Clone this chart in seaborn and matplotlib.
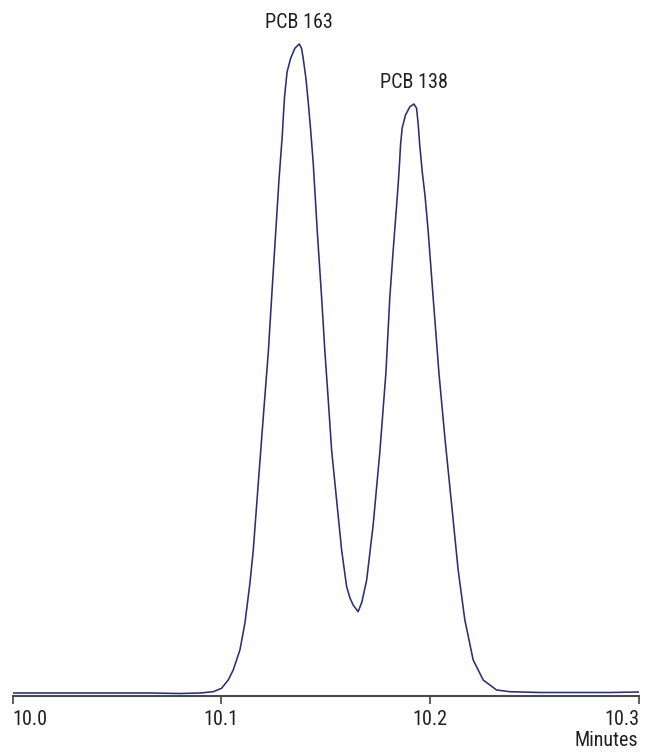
import numpy as np
import pandas as pd
import matplotlib
matplotlib.use("Agg")
import matplotlib.pyplot as plt
import seaborn as sns

# retention time (minutes) and detector signal (arbitrary units)
tempo = [10.0000, 10.0419, 10.0658, 10.0802, 10.0898, 10.0961, 10.1001, 10.1033,
         10.1057, 10.1089, 10.1113, 10.1137, 10.1153, 10.1177, 10.1201, 10.1225,
         10.1246, 10.1261, 10.1276,
         10.1292, 10.1297, 10.1303, 10.1315, 10.1332, 10.1352,
         10.1373,
         10.1384, 10.1392, 10.1405, 10.1416, 10.1427, 10.1440,
         10.1459, 10.1480, 10.1496, 10.1512, 10.1528, 10.1552, 10.1576, 10.1600,
         10.1616, 10.1631, 10.1655,
         10.1673, 10.1696, 10.1727, 10.1759, 10.1788, 10.1807, 10.1823,
         10.1842, 10.1847, 10.1854, 10.1858, 10.1866, 10.1882, 10.1903,
         10.1922,
         10.1935, 10.1943, 10.1950, 10.1962, 10.1975, 10.1990,
         10.2014, 10.2042, 10.2070, 10.2102, 10.2134, 10.2166, 10.2206, 10.2254,
         10.2318, 10.2382, 10.2525, 10.2717, 10.2860, 10.3000]
sinal = [3.0, 3.0, 3.0, 2.5, 3.0, 4.3, 7.7, 16.0,
         26.0, 46.0, 73.0, 113.0, 146.0, 213.0, 279.3, 344.0,
         416.0, 466.0, 516.0,
         561.0, 580.0, 600.0, 624.3, 637.7, 647.7,
         652.0,
         647.7, 637.7, 617.7, 594.3, 567.7, 533.0,
         466.0, 399.3, 344.0, 296.0, 246.0, 196.0, 146.0, 109.3,
         98.0, 91.0, 84.3,
         94.0, 116.0, 171.0, 244.0, 323.0, 399.3, 446.0,
         498.0, 512.0, 535.0, 551.0, 568.0, 581.0, 589.3,
         592.0,
         587.7, 571.0, 551.0, 524.3, 501.0, 466.0,
         399.3, 323.0, 259.3, 193.0, 126.0, 76.0, 36.0, 16.0,
         6.0, 4.3, 3.5, 3.5, 3.5, 4.0]

picos = ["PCB 163", "PCB 138"]
ticks_x = [10.0, 10.1, 10.2, 10.3]
rotulos_x = ["10.0", "10.1", "10.2", "10.3"]

df = pd.DataFrame({"tempo": tempo, "sinal": sinal})

sns.set_style("white")
plt.rcParams["font.family"] = ["Roboto Condensed", "Liberation Sans", "DejaVu Sans"]
cor_texto = "#231f20"

fig = plt.figure(figsize=(6.45, 7.52), dpi=100)
ax = fig.add_axes([12.5 / 645, 56 / 752, 626.5 / 645, 696 / 752])

sns.lineplot(data=df, x="tempo", y="sinal", color="#272e80", linewidth=1.15, ax=ax)

ax.set_xlim(10.0, 10.3)
ax.set_ylim(0, 696)

# rotulos acima dos maximos locais
s = df["sinal"].values
maximos = [i for i in range(1, len(s) - 1) if s[i] > s[i - 1] and s[i] >= s[i + 1] and s[i] > 300]
for nome, i in zip(picos, maximos):
    ax.annotate(nome, xy=(df.loc[i, "tempo"], df.loc[i, "sinal"]), xytext=(0, 15.5),
                textcoords="offset points", ha="center", va="center",
                fontsize=14.5, color=cor_texto)

for lado in ["top", "right", "left"]:
    ax.spines[lado].set_visible(False)
ax.spines["bottom"].set_color("#4a4a4a")
ax.spines["bottom"].set_linewidth(1.5)
ax.set_yticks([])
ax.set_xticks(ticks_x)
ax.set_xticklabels(rotulos_x, fontsize=14.5, color=cor_texto)
ax.tick_params(axis="x", direction="out", length=5.8, width=1.1, color="#333333", pad=4, bottom=True)
labels = ax.get_xticklabels()
labels[0].set_ha("left")
labels[-1].set_ha("right")
ax.set_xlabel("")
ax.set_ylabel("")

fig.text(638 / 645, (752 - 741) / 752, "Minutes", ha="right", va="center",
         fontsize=14.5, color=cor_texto)

plt.savefig("out.png", dpi=100)
plt.close()
